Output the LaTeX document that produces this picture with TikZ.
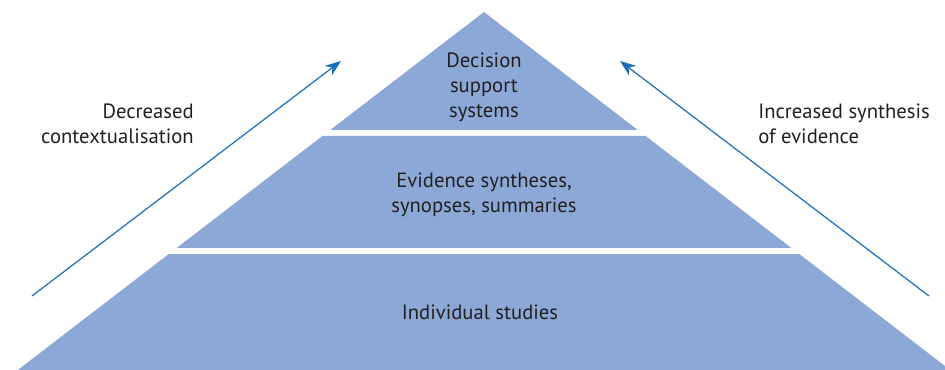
\documentclass[tikz,border=0pt]{standalone}
\usepackage{fontspec}
\setmainfont{PT Sans}
\usepackage{xcolor}
\usetikzlibrary{arrows.meta,calc,positioning}

\definecolor{pyrblue}{HTML}{8CA8D6}
\definecolor{arrowblue}{HTML}{1B6DB6}
\definecolor{textgrey}{HTML}{231F20}

\begin{document}
\begin{tikzpicture}[x=0.75pt, y=-0.75pt, arrow/.style = {line width=0.9pt,arrowblue,-{Stealth[length=12pt,width=9pt]}}]
		\tikzset{layer/.style={fill=pyrblue,draw=none}}
		\tikzset{label/.style={text=textgrey,font=\fontsize{15.5}{18.75}\selectfont,inner sep=0pt}}

		\useasboundingbox (0,0) rectangle (945,370);
		\clip (0,0) rectangle (945,370);

		% Layers
		\fill[layer] (484,12) -- (330.2,130) -- (637.8,130) -- cycle;

		\fill[layer] (322.4,136) -- (645.6,136) -- (791.4,248) -- (176.6,248) -- cycle;

		\fill[layer] (168.8,254) -- (799.2,254) -- (950.2,370) -- (17.8,370) -- cycle;

		% Texts
		\node[label, align=center] (dss) at (484,87) {Decision\\support\\systems};

		\node[label, align=center] (syn) at (484,195) {Evidence syntheses,\\synopses, summaries};

		\node[label] (ind) at (480,312) {Individual studies};

		\node[label, align=right, anchor=east] (dec) at (194,124) {Decreased\\contextualisation};

		\node[label, align=left, anchor=west] (inc) at (758,124) {Increased synthesis\\of evidence};

		% Arrows
		\coordinate (decstart) at (32,296);
		\coordinate (decend) at (341,61);
		\coordinate (incstart) at (929,296);
		\coordinate (incend) at (620,61);

		\draw [arrow] (decstart) -- (decend);
		\draw [arrow] (incstart) -- (incend);

	\end{tikzpicture}
\end{document}
